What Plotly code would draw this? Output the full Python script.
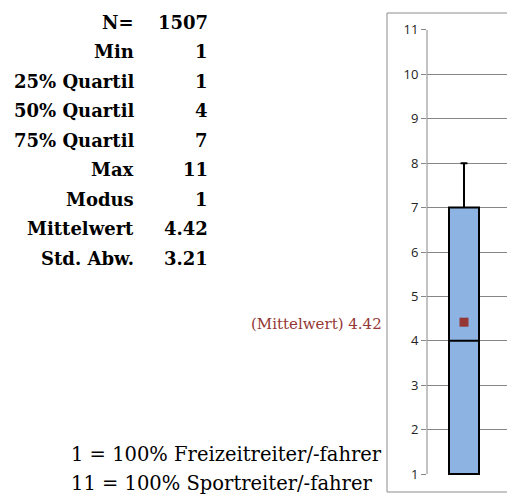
import plotly.graph_objects as go

# ---- data ----
stat_labels = ["N=", "Min", "25% Quartil", "50% Quartil", "75% Quartil", "Max", "Modus", "Mittelwert", "Std. Abw."]
stat_values = ["1507", "1", "1", "4", "7", "11", "1", "4.42", "3.21"]

box_q1 = [1]
box_median = [4]
box_q3 = [7]
box_lower = [1]
box_upper = [8]
box_mean = [4.42]
mean_label = "(Mittelwert) 4.42"
legend_lines = ["1 = 100% Freizeitreiter/-fahrer", "11 = 100% Sportreiter/-fahrer"]
y_ticks = list(range(1, 12))

# ---- layout geometry (pixels) ----
W, H = 507, 494
L, R = 427, 0
T, B = 29, 19
pw, ph = W - L - R, H - T - B

def px(x):
    return (x - L) / pw

def py(y):
    return (H - B - y) / ph

serif = "DejaVu Serif"
box_x = px(464)

fig = go.Figure()
fig.add_trace(go.Box(
    x=[box_x], q1=box_q1, median=box_median, q3=box_q3,
    lowerfence=box_lower, upperfence=box_upper,
    width=30 / pw, whiskerwidth=0.23,
    fillcolor="#8DB3E2", line=dict(color="#000000", width=2),
    showlegend=False, hoverinfo="skip",
))
fig.add_trace(go.Scatter(
    x=[box_x], y=box_mean, mode="markers",
    marker=dict(symbol="square", size=9, color="#953735"),
    showlegend=False, hoverinfo="skip",
))

annotations = []
row0, dy = 22, 29.5
for i, (lab, val) in enumerate(zip(stat_labels, stat_values)):
    yy = row0 + i * dy
    annotations.append(dict(x=px(136), y=py(yy), xref="paper", yref="paper", text=f"<b>{lab}</b>",
                            showarrow=False, xanchor="right", yanchor="middle",
                            font=dict(family=serif, size=18, color="#000000")))
    annotations.append(dict(x=px(210), y=py(yy), xref="paper", yref="paper", text=f"<b>{val}</b>",
                            showarrow=False, xanchor="right", yanchor="middle",
                            font=dict(family=serif, size=18, color="#000000")))

annotations.append(dict(x=px(384), y=py(324), xref="paper", yref="paper", text=mean_label,
                        showarrow=False, xanchor="right", yanchor="middle",
                        font=dict(family=serif, size=15, color="#953735")))
for i, line in enumerate(legend_lines):
    annotations.append(dict(x=px(69), y=py(454 + i * 29), xref="paper", yref="paper", text=line,
                            showarrow=False, xanchor="left", yanchor="middle",
                            font=dict(family=serif, size=19.5, color="#000000")))

shapes = [
    dict(type="rect", xref="paper", yref="paper", x0=px(387), x1=px(512), y0=py(492), y1=py(13),
         line=dict(color="#8C8C8C", width=1), fillcolor="rgba(0,0,0,0)", layer="below"),
    dict(type="line", xref="paper", yref="y", x0=0, x1=0, y0=1, y1=11,
         line=dict(color="#868686", width=1), layer="below"),
]

fig.update_layout(
    width=W, height=H,
    margin=dict(l=L, r=R, t=T, b=B, pad=0),
    paper_bgcolor="white", plot_bgcolor="white",
    annotations=annotations, shapes=shapes,
    xaxis=dict(range=[0, 1], visible=False, fixedrange=True),
    yaxis=dict(range=[0.98, 11.02], tickvals=y_ticks, showgrid=True, gridcolor="#868686", gridwidth=1,
               zeroline=False, showline=False, ticks="outside", ticklen=5, tickcolor="#868686",
               tickfont=dict(family="Open Sans", size=13, color="#222222")),
)

fig.write_html("out.html", config={"displayModeBar": False},
               post_script="document.body.style.margin='0';document.body.style.padding='0';")
